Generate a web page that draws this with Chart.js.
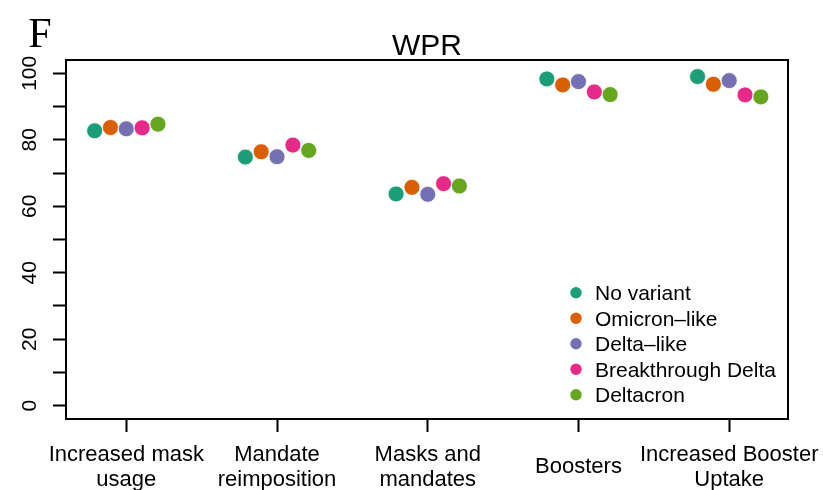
<!DOCTYPE html>
<html>
<head>
<meta charset="utf-8">
<script src="https://cdn.jsdelivr.net/npm/chart.js@4"></script>
<style>
  html, body { margin: 0; padding: 0; background: #fff; }
  #wrap { width: 823px; height: 490px; }
</style>
</head>
<body>
<div id="wrap"><canvas id="myChart" width="823" height="490"></canvas></div>
<script>
// categories (x axis)
const categories = [
    ['Increased mask', 'usage'],
    ['Mandate', 'reimposition'],
    ['Masks and', 'mandates'],
    ['Boosters'],
    ['Increased Booster', 'Uptake'],
];

// series names + colours (Dark2)
const seriesNames = ['No variant', 'Omicron\u2013like', 'Delta\u2013like', 'Breakthrough Delta', 'Deltacron'];
const seriesColors = ['#1B9E77', '#D95F02', '#7570B3', '#E7298A', '#66A61E'];

// WPR values, one array per series, one value per category
const noVariant   = [82.7, 74.8, 63.7, 98.3, 99.0];
const omicronLike = [83.7, 76.4, 65.7, 96.5, 96.7];
const deltaLike   = [83.3, 74.9, 63.6, 97.5, 97.8];
const breakDelta  = [83.6, 78.4, 66.8, 94.4, 93.5];
const deltacron   = [84.7, 76.8, 66.1, 93.6, 92.9];

const seriesValues = [noVariant, omicronLike, deltaLike, breakDelta, deltacron];

// y tick labels
const yTicks = [0, 10, 20, 30, 40, 50, 60, 70, 80, 90, 100];
const yLabels = [0, 20, 40, 60, 80, 100];

const SANS = '"Liberation Sans", Arial, Helvetica, sans-serif';

const datasets = seriesValues.map((vals, i) => ({
    label: seriesNames[i],
    data: vals.map((v, j) => ({ x: j + 1 + (i - 2) * 0.105, y: v })),
    backgroundColor: seriesColors[i],
    borderColor: '#ffffff',
    borderWidth: 0.8,
    pointRadius: 8,
    pointHoverRadius: 8,
    order: seriesValues.length - i, // later series on top, like R
}));

// draws the box, labels, title and the legend (R base style)
const baseStylePlugin = {
    id: 'baseStyle',
    afterDraw(chart) {
        const ctx = chart.ctx;
        const area = chart.chartArea;
        const xs = chart.scales.x;
        const ys = chart.scales.y;
        ctx.save();

        // box
        ctx.strokeStyle = '#000';
        ctx.lineWidth = 2;
        ctx.strokeRect(area.left, area.top, area.right - area.left, area.bottom - area.top);

        ctx.fillStyle = '#000';

        // y labels, rotated
        ctx.font = '21px ' + SANS;
        ctx.textAlign = 'center';
        ctx.textBaseline = 'alphabetic';
        yLabels.forEach(v => {
            const py = ys.getPixelForValue(v);
            ctx.save();
            ctx.translate(36, py);
            ctx.rotate(-Math.PI / 2);
            ctx.fillText(String(v), 0, 0);
            ctx.restore();
        });

        // x labels, centred as a block
        ctx.font = '22px ' + SANS;
        categories.forEach((lines, j) => {
            const px = xs.getPixelForValue(j + 1);
            const mid = 473;
            const step = 25;
            const first = mid - (lines.length - 1) * step / 2;
            lines.forEach((t, k) => ctx.fillText(t, px, first + k * step));
        });

        // title
        ctx.font = '30px ' + SANS;
        ctx.fillText('WPR', (area.left + area.right) / 2, 55);

        // panel letter
        ctx.font = '42px "Liberation Serif", "Times New Roman", serif';
        ctx.fillText('F', 40, 47);

        // legend
        ctx.font = '21px ' + SANS;
        ctx.textAlign = 'left';
        seriesNames.forEach((name, i) => {
            const cy = 292.7 + i * 25.5;
            ctx.beginPath();
            ctx.arc(576, cy, 5.7, 0, Math.PI * 2);
            ctx.fillStyle = seriesColors[i];
            ctx.fill();
            ctx.fillStyle = '#000';
            ctx.fillText(name, 595, cy + 7.5);
        });

        ctx.restore();
    }
};

const ctx = document.getElementById('myChart').getContext('2d');
const myChart = new Chart(ctx, {
    type: 'scatter',
    data: { datasets: datasets },
    options: {
        responsive: false,
        animation: false,
        layout: { padding: { left: 0, top: 60, right: 35, bottom: 0 } },
        plugins: {
            legend: { display: false },
            tooltip: { enabled: false },
            title: { display: false },
        },
        scales: {
            x: {
                type: 'linear',
                min: 0.6,
                max: 5.39,
                afterBuildTicks: s => { s.ticks = categories.map((_, j) => ({ value: j + 1 })); },
                afterFit: s => { s.height = 71; },
                ticks: { display: false },
                border: { display: false },
                grid: { drawOnChartArea: false, drawTicks: true, tickLength: 13, tickColor: '#000', tickWidth: 2 },
            },
            y: {
                type: 'linear',
                min: -4,
                max: 104,
                afterBuildTicks: s => { s.ticks = yTicks.map(v => ({ value: v })); },
                afterFit: s => { s.width = 66; },
                ticks: { display: false },
                border: { display: false },
                grid: { drawOnChartArea: false, drawTicks: true, tickLength: 13, tickColor: '#000', tickWidth: 2 },
            },
        },
    },
    plugins: [baseStylePlugin],
});
</script>
</body>
</html>
